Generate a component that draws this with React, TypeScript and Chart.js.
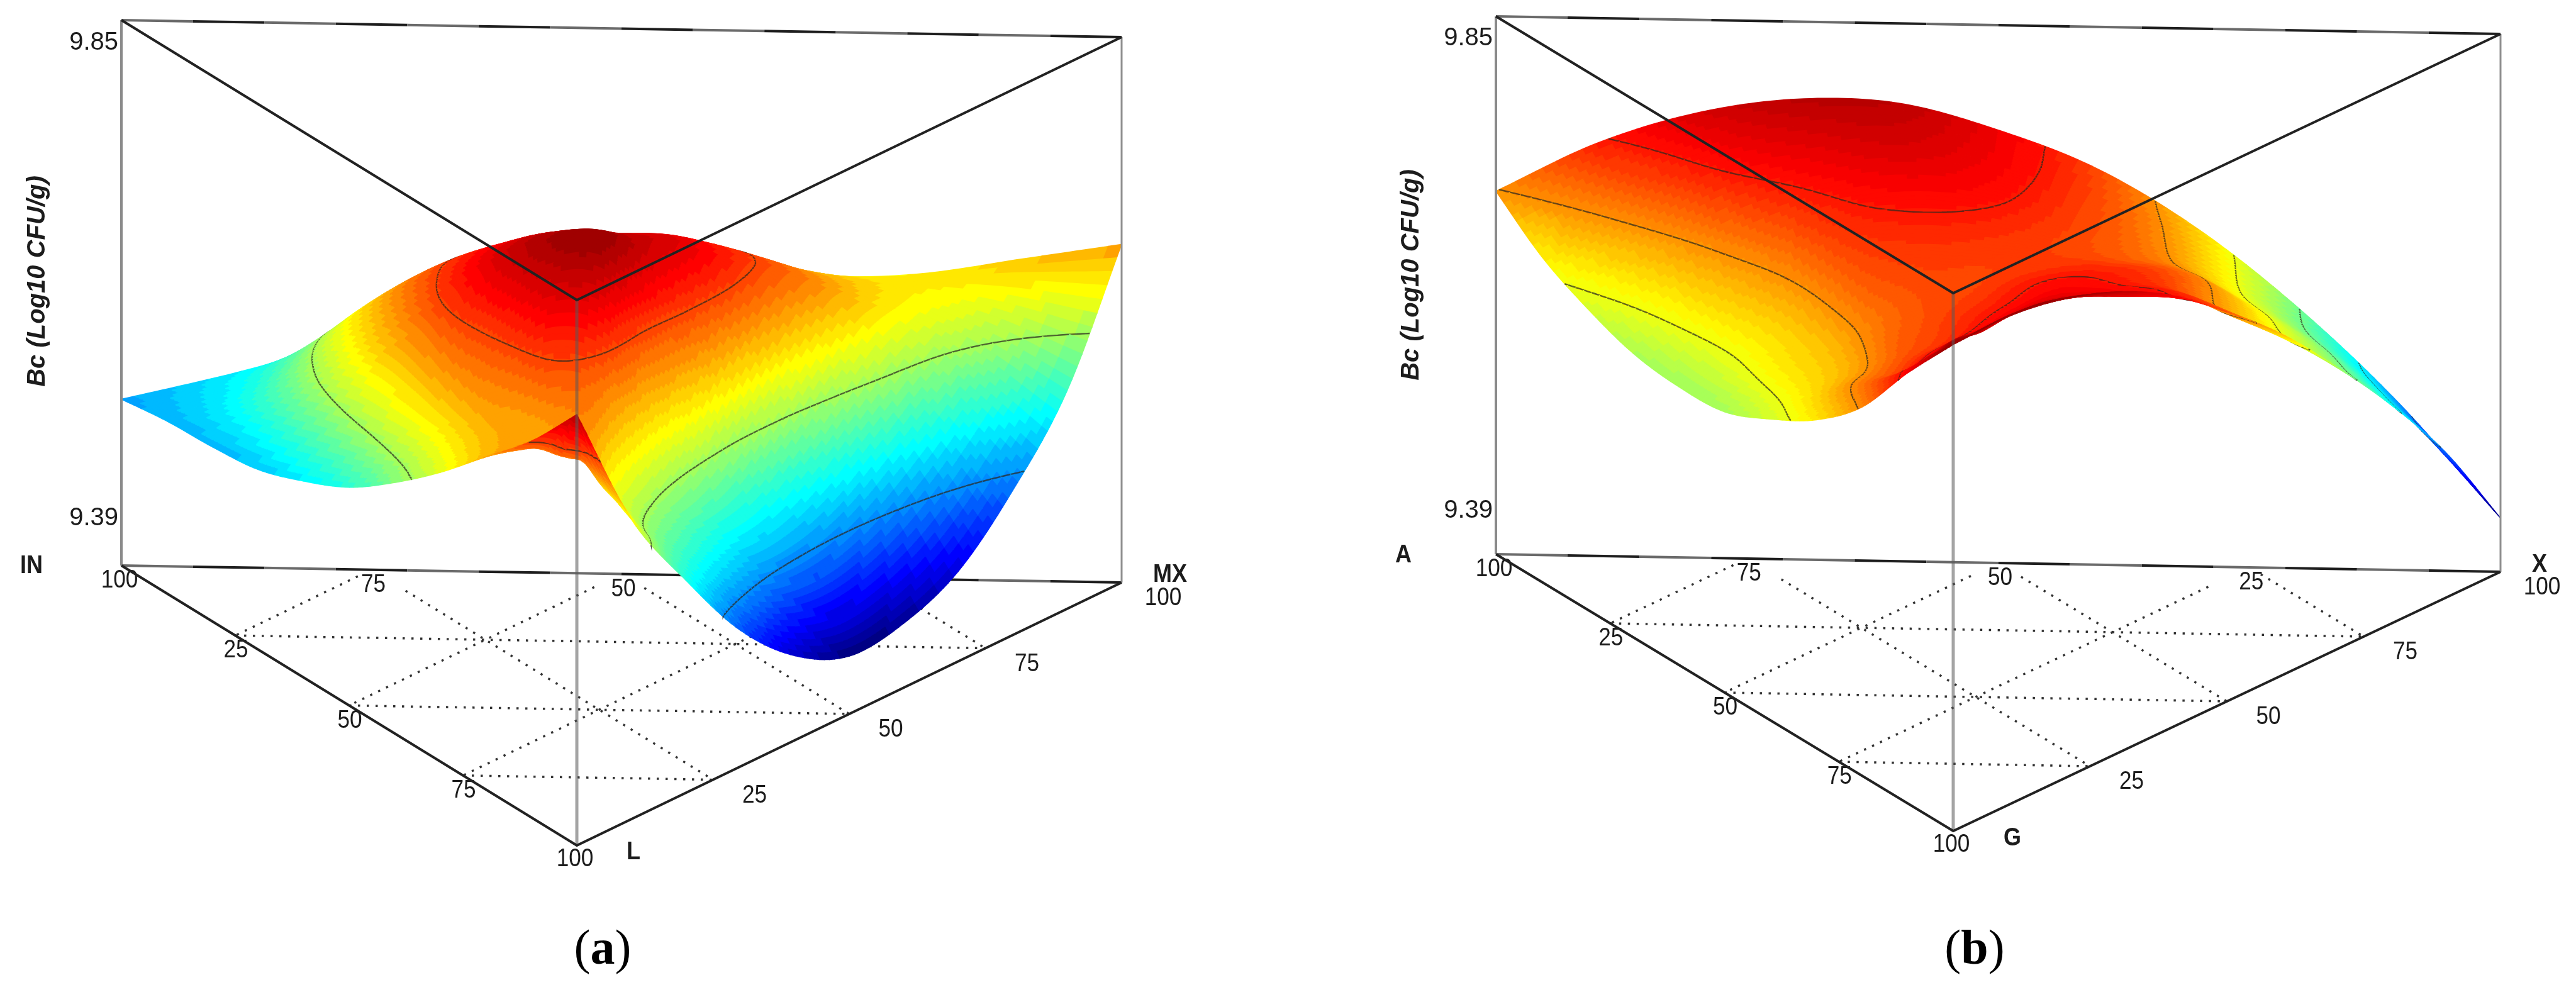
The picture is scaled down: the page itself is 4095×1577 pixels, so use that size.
import React, { useEffect, useRef } from "react";
import { Chart, registerables } from "chart.js";

Chart.register(...registerables);

// Surface heights, as a fraction of the Bc axis (0 = 9.39, 1 = 9.85).
// Each list is one line of constant component ratio, from the back edge to the front corner.
const panelA_r00 = [0.305, 0.316, 0.32, 0.33, 0.36, 0.4, 0.46, 0.53, 0.61, 0.69, 0.79];
const panelA_r10 = [0.35, 0.39, 0.45, 0.5, 0.53, 0.54, 0.55, 0.58, 0.62, 0.69, 0.79];
const panelA_r20 = [0.4, 0.505, 0.59, 0.63, 0.65, 0.64, 0.62, 0.61, 0.63, 0.685, 0.79];
const panelA_r30 = [0.44, 0.56, 0.67, 0.72, 0.74, 0.7, 0.65, 0.615, 0.63, 0.67, 0.79];
const panelA_r40 = [0.49, 0.6, 0.7, 0.77, 0.8, 0.755, 0.68, 0.63, 0.625, 0.665, 0.79];
const panelA_r50 = [0.53, 0.625, 0.715, 0.775, 0.815, 0.75, 0.665, 0.635, 0.62, 0.66, 0.79];
const panelA_r60 = [0.55, 0.63, 0.715, 0.755, 0.725, 0.655, 0.6, 0.565, 0.56, 0.645, 0.79];
const panelA_r70 = [0.55, 0.615, 0.67, 0.665, 0.62, 0.56, 0.51, 0.495, 0.52, 0.625, 0.79];
const panelA_r80 = [0.56, 0.57, 0.58, 0.53, 0.47, 0.42, 0.41, 0.43, 0.48, 0.6, 0.79];
const panelA_r90 = [0.59, 0.5, 0.43, 0.37, 0.32, 0.3, 0.31, 0.36, 0.44, 0.58, 0.79];
const panelA_r100 = [0.62, 0.4, 0.265, 0.165, 0.118, 0.106, 0.155, 0.25, 0.39, 0.55, 0.79];

const panelB_r00 = [0.675, 0.605, 0.56, 0.528, 0.517, 0.522, 0.56, 0.61, 0.685, 0.8, 0.905];
const panelB_r10 = [0.767, 0.7, 0.64, 0.61, 0.59, 0.6, 0.615, 0.67, 0.735, 0.815, 0.905];
const panelB_r20 = [0.827, 0.785, 0.72, 0.672, 0.645, 0.64, 0.655, 0.7, 0.75, 0.83, 0.905];
const panelB_r30 = [0.856, 0.815, 0.775, 0.745, 0.72, 0.7, 0.71, 0.73, 0.775, 0.84, 0.905];
const panelB_r40 = [0.852, 0.83, 0.795, 0.76, 0.74, 0.73, 0.735, 0.75, 0.8, 0.855, 0.905];
const panelB_r50 = [0.805, 0.8, 0.785, 0.755, 0.74, 0.745, 0.76, 0.775, 0.82, 0.865, 0.905];
const panelB_r60 = [0.735, 0.745, 0.745, 0.74, 0.75, 0.77, 0.78, 0.8, 0.83, 0.87, 0.905];
const panelB_r70 = [0.626, 0.665, 0.695, 0.72, 0.755, 0.78, 0.8, 0.825, 0.855, 0.88, 0.905];
const panelB_r80 = [0.482, 0.54, 0.61, 0.69, 0.74, 0.772, 0.805, 0.84, 0.87, 0.89, 0.905];
const panelB_r90 = [0.308, 0.42, 0.52, 0.6, 0.675, 0.76, 0.8, 0.85, 0.885, 0.9, 0.905];
const panelB_r100 = [0.1, 0.27, 0.407, 0.526, 0.635, 0.724, 0.803, 0.858, 0.892, 0.908, 0.905];

const contourLevelsA = [0.29, 0.485, 0.685];
const contourLevelsB = [0.286, 0.384, 0.482, 0.58, 0.678, 0.776];

const leftTickLabels = ["100", "25", "50", "75", "100"];
const backTickLabels = ["75", "50", "25"];
const rightTickLabels = ["25", "50", "75", "100"];
const heightTickLabels = ["9.85", "9.39"];
const heightAxisTitle = "Bc (Log10 CFU/g)";

const panelA = {
  columns: [panelA_r00, panelA_r10, panelA_r20, panelA_r30, panelA_r40, panelA_r50, panelA_r60, panelA_r70, panelA_r80, panelA_r90, panelA_r100],
  levels: contourLevelsA,
  names: ["IN", "MX", "L"],
  L: [193, 899], R: [1783, 926], F: [917, 1344], H: 867,
  zLow: 0.1, zHigh: 0.82, bands: 44,
  titleX: 60, titleY: 447,
  hi: 36, lo: -75,
  nameL: [-143, 1], nameR: [77, -12], nameF: [90, 11],
};
const panelB = {
  columns: [panelB_r00, panelB_r10, panelB_r20, panelB_r30, panelB_r40, panelB_r50, panelB_r60, panelB_r70, panelB_r80, panelB_r90, panelB_r100],
  levels: contourLevelsB,
  names: ["A", "X", "G"],
  L: [2378, 881], R: [3975, 909], F: [3105, 1321], H: 855,
  zLow: 0.097, zHigh: 0.89, bands: 64,
  titleX: 2244, titleY: 437,
  hi: 35, lo: -69,
  nameL: [-147, 2], nameR: [62, -11], nameF: [94, 12],
};

const STOPS: [number, number[]][] = [
  [0, [0, 0, 120]], [0.125, [0, 0, 255]], [0.375, [0, 255, 255]], [0.5, [128, 255, 128]],
  [0.625, [255, 255, 0]], [0.875, [255, 0, 0]], [1, [150, 0, 0]],
];
function ramp(v: number) {
  const t = Math.max(0, Math.min(1, v));
  for (let i = 1; i < STOPS.length; i++) {
    if (t <= STOPS[i][0]) {
      const [a, ca] = STOPS[i - 1];
      const [b, cb] = STOPS[i];
      const f = (t - a) / (b - a);
      return `rgb(${ca.map((x, k) => Math.round(x + (cb[k] - x) * f)).join(",")})`;
    }
  }
  return "rgb(150,0,0)";
}

function project(P: any, a: number, b: number, c: number, h: number) {
  return {
    x: a * P.L[0] + b * P.R[0] + c * P.F[0],
    y: a * P.L[1] + b * P.R[1] + c * P.F[1] - h * P.H,
  };
}
function at(cols: number[][], i: number, j: number): number {
  const n = cols.length - 1;
  const m = cols[0].length - 1;
  if (i < 0) return 2 * at(cols, 0, j) - at(cols, 1, j);
  if (i > n) return 2 * at(cols, n, j) - at(cols, n - 1, j);
  if (j < 0) return 2 * at(cols, i, 0) - at(cols, i, 1);
  if (j > m) return 2 * at(cols, i, m) - at(cols, i, m - 1);
  return cols[i][j];
}
function spline(p0: number, p1: number, p2: number, p3: number, t: number) {
  return 0.5 * (2 * p1 + (p2 - p0) * t + (2 * p0 - 5 * p1 + 4 * p2 - p3) * t * t + (3 * p1 - p0 - 3 * p2 + p3) * t * t * t);
}
// Smooth shading of the surface between the read nodes
function heightAt(cols: number[][], u: number, v: number) {
  const i = Math.min(Math.floor(u), cols.length - 2);
  const j = Math.min(Math.floor(v), cols[0].length - 2);
  const row = [-1, 0, 1, 2].map((d) =>
    spline(at(cols, i + d, j - 1), at(cols, i + d, j), at(cols, i + d, j + 1), at(cols, i + d, j + 2), v - j)
  );
  return spline(row[0], row[1], row[2], row[3], u - i);
}

function lineSet(data: any[], color: string, width: number, dash: number[] = []) {
  return { data, borderColor: color, backgroundColor: color, borderWidth: width, borderDash: dash, fill: false, pointRadius: 0, tension: 0, borderCapStyle: "butt" };
}
// The long back edges of the frame alternate between dark and grey runs
function steppedEdge(A: any, B: any, runs: number) {
  const out: any[] = [];
  for (let i = 0; i < runs; i++) {
    const p = i / runs, q = (i + 1) / runs;
    out.push(lineSet(
      [{ x: A.x + (B.x - A.x) * p, y: A.y + (B.y - A.y) * p }, { x: A.x + (B.x - A.x) * q, y: A.y + (B.y - A.y) * q }],
      i % 2 ? "#1e1e1e" : "#6a6a6a", 4));
  }
  return out;
}

function panelParts(P: any) {
  const under: any[] = [];
  const surface: any[] = [];
  const over: any[] = [];
  const g = (a: number, b: number, c: number, h = 0) => project(P, a, b, c, h);

  for (const k of [0.25, 0.5, 0.75]) {
    const dash = [3.5, 10.5];
    const trim = 0.1;
    under.push(lineSet([g(1 - k, 0, k), g(0, 1 - k, k)], "#333333", 3.5, dash));
    const a1 = g(1 - k, k, 0), a2 = g(1 - k, 0, k);
    under.push(lineSet([{ x: a1.x + (a2.x - a1.x) * trim, y: a1.y + (a2.y - a1.y) * trim }, a2], "#333333", 3.5, dash));
    const b1 = g(1 - k, k, 0), b2 = g(0, k, 1 - k);
    under.push(lineSet([{ x: b1.x + (b2.x - b1.x) * trim, y: b1.y + (b2.y - b1.y) * trim }, b2], "#333333", 3.5, dash));
  }
  under.push(...steppedEdge(g(1, 0, 0), g(0, 1, 0), 14));

  const NC = 110;
  const NS = 150;
  const Z: number[][] = [];
  const pts: any[][] = [];
  for (let i = 0; i <= NC; i++) {
    Z.push([]);
    pts.push([]);
    const c = i / NC;
    for (let j = 0; j <= NS; j++) {
      const s = j / NS;
      const h = heightAt(P.columns, s * 10, c * 10);
      Z[i].push(h);
      pts[i].push(project(P, (1 - c) * (1 - s), (1 - c) * s, c, h));
    }
  }
  const toV = (h: number) => (h - P.zLow) / (P.zHigh - P.zLow);
  const bandOf = (i: number, j: number) => {
    const avg = (Z[i][j] + Z[i + 1][j] + Z[i][j + 1] + Z[i + 1][j + 1]) / 4;
    return Math.max(0, Math.min(P.bands - 1, Math.floor(toV(avg) * P.bands)));
  };
  for (let i = 0; i < NC; i++) {
    let j = 0;
    while (j < NS) {
      const band = bandOf(i, j);
      let e = j + 1;
      while (e < NS && bandOf(i, e) === band) e++;
      const poly: any[] = [];
      for (let q = j; q <= e; q++) poly.push(pts[i][q]);
      for (let q = e; q >= j; q--) poly.push(pts[i + 1][q]);
      poly.push(pts[i][j]);
      const color = ramp((band + 0.5) / P.bands);
      surface.push({ data: poly, borderColor: color, backgroundColor: color, borderWidth: 1.5, fill: "shape", pointRadius: 0, tension: 0 });
      j = e;
    }
    const seg: any[] = [];
    const cross = (A: any, B: any, za: number, zb: number, l: number) => {
      const t = (l - za) / (zb - za);
      return { x: A.x + (B.x - A.x) * t, y: A.y + (B.y - A.y) * t };
    };
    const tri = (p: any[], z: number[], l: number) => {
      const out: any[] = [];
      for (let k = 0; k < 3; k++) {
        const n = (k + 1) % 3;
        if ((z[k] < l) !== (z[n] < l)) out.push(cross(p[k], p[n], z[k], z[n], l));
      }
      if (out.length === 2) seg.push(out[0], out[1], { x: NaN, y: NaN });
    };
    for (let q = 0; q < NS; q++) {
      for (const l of P.levels) {
        tri([pts[i][q], pts[i + 1][q], pts[i][q + 1]], [Z[i][q], Z[i + 1][q], Z[i][q + 1]], l);
        tri([pts[i + 1][q + 1], pts[i + 1][q], pts[i][q + 1]], [Z[i + 1][q + 1], Z[i + 1][q], Z[i][q + 1]], l);
      }
    }
    if (seg.length) surface.push(lineSet(seg, "rgba(45,40,30,0.72)", 2.4));
  }

  const TL = g(1, 0, 0, 1), TR = g(0, 1, 0, 1), TF = g(0, 0, 1, 1);
  over.push(lineSet([g(1, 0, 0), TL], "#8a8a8a", 4));
  over.push(lineSet([g(0, 1, 0), TR], "#8f8f8f", 3));
  over.push(lineSet([g(0, 0, 1), TF], "rgba(90,90,90,0.55)", 5));
  over.push(...steppedEdge(TL, TR, 14));
  over.push(lineSet([TL, TF, TR], "#222222", 4));
  over.push(lineSet([g(1, 0, 0), g(0, 0, 1), g(0, 1, 0)], "#222222", 4));
  return { under, surface, over };
}

function panelTexts(P: any) {
  const out: any[] = [];
  const tick = (p: any, dx: number, dy: number, text: string) =>
    out.push({ x: p.x + dx, y: p.y + dy, text, font: "40px 'Liberation Sans'", squeeze: 0.88, align: "center" });
  leftTickLabels.forEach((t, i) => {
    const k = i / 4;
    tick(project(P, 1 - k, 0, k, 0), i === 0 || i === 4 ? -3 : 1, i === 4 ? 22 : 24, t);
  });
  backTickLabels.forEach((t, i) => {
    const k = (i + 1) / 4;
    tick(project(P, 1 - k, k, 0, 0), 3, 24, t);
  });
  rightTickLabels.forEach((t, i) => {
    const k = (i + 1) / 4;
    tick(project(P, 0, k, 1 - k, 0), 66, 25, t);
  });
  const name = (p: any, off: number[], text: string) =>
    out.push({ x: p.x + off[0], y: p.y + off[1], text, font: "bold 40px 'Liberation Sans'", squeeze: 0.9, align: "center" });
  name(project(P, 1, 0, 0, 0), P.nameL, P.names[0]);
  name(project(P, 0, 1, 0, 0), P.nameR, P.names[1]);
  name(project(P, 0, 0, 1, 0), P.nameF, P.names[2]);
  const base = project(P, 1, 0, 0, 0);
  const top = project(P, 1, 0, 0, 1);
  out.push({ x: top.x - 5, y: top.y + P.hi, text: heightTickLabels[0], font: "40px 'Liberation Sans'", squeeze: 1, align: "right" });
  out.push({ x: base.x - 5, y: base.y + P.lo, text: heightTickLabels[1], font: "40px 'Liberation Sans'", squeeze: 1, align: "right" });
  out.push({ x: P.titleX, y: P.titleY, text: heightAxisTitle, font: "italic bold 40px 'Liberation Sans'", squeeze: 1, align: "center", rotate: -Math.PI / 2 });
  return out;
}

const textPlugin = {
  id: "panelText",
  beforeDatasetsDraw(chart: any, _args: any, opts: any) {
    const { ctx, scales } = chart;
    ctx.save();
    ctx.fillStyle = "#1c1c1c";
    ctx.textBaseline = "middle";
    for (const t of opts.items) {
      ctx.save();
      ctx.translate(scales.x.getPixelForValue(t.x), scales.y.getPixelForValue(t.y));
      if (t.rotate) ctx.rotate(t.rotate);
      ctx.scale(t.squeeze, 1);
      ctx.font = t.font;
      ctx.textAlign = t.align;
      ctx.fillText(t.text, 0, 0);
      ctx.restore();
    }
    ctx.restore();
  },
};

export default function App() {
  const ref = useRef<HTMLCanvasElement>(null);
  useEffect(() => {
    const a = panelParts(panelA);
    const b = panelParts(panelB);
    const painted = [...a.under, ...b.under, ...a.surface, ...b.surface, ...a.over, ...b.over];
    const chart = new Chart(ref.current as HTMLCanvasElement, {
      type: "line",
      data: { datasets: painted.slice().reverse() },
      options: {
        animation: false,
        responsive: false,
        devicePixelRatio: 1,
        events: [],
        layout: { padding: 0 },
        scales: {
          x: { type: "linear", min: 0, max: 4095, display: false },
          y: { type: "linear", min: 0, max: 1577, reverse: true, display: false },
        },
        plugins: {
          legend: { display: false },
          tooltip: { enabled: false },
          panelText: { items: [...panelTexts(panelA), ...panelTexts(panelB)] },
        },
      } as any,
      plugins: [textPlugin as any],
    });
    return () => chart.destroy();
  }, []);
  const cap: React.CSSProperties = {
    position: "absolute", top: 1456, width: 200, textAlign: "center",
    font: "78px 'Liberation Serif'", color: "#000", lineHeight: "100px",
  };
  return (
    <div style={{ position: "absolute", left: 0, top: 0, width: 4095, height: 1577, overflow: "hidden", background: "#fff" }}>
      <canvas ref={ref} width={4095} height={1577} style={{ position: "absolute", left: 0, top: 0, display: "block" }} />
      <div style={{ ...cap, left: 858 }}>(<b>a</b>)</div>
      <div style={{ ...cap, left: 3039 }}>(<b>b</b>)</div>
    </div>
  );
}
